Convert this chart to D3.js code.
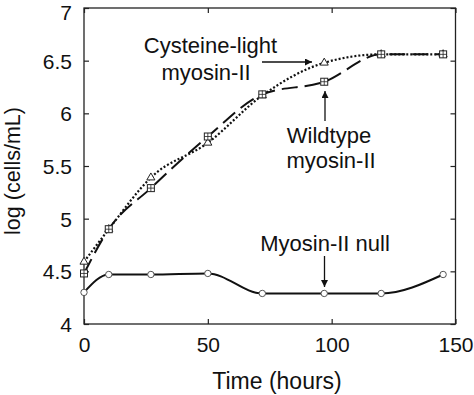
<!DOCTYPE html>
<html>
<head>
<meta charset="utf-8">
<script src="https://cdn.jsdelivr.net/npm/d3@7"></script>
<style>
  html, body { margin: 0; padding: 0; background: #fff; }
  svg text { font-family: "Liberation Sans", Arial, Helvetica, sans-serif; fill: #111; }
</style>
</head>
<body>
<svg id="chart" width="474" height="395"></svg>
<script>
// ---- data ----
const hours = [0, 10, 27, 50, 72, 97, 120, 145];
const cysteineLight = [4.59, 4.90, 5.39, 5.72, 6.17, 6.48, 6.56, 6.56];
const wildtype = [4.48, 4.90, 5.29, 5.78, 6.18, 6.30, 6.56, 6.56];
const myosinNull = [4.30, 4.47, 4.47, 4.48, 4.29, 4.29, 4.29, 4.47];
const xTicks = [0, 50, 100, 150];
const yTicks = [4, 4.5, 5, 5.5, 6, 6.5, 7];
const xTitle = "Time (hours)";
const yTitle = "log (cells/mL)";

const svg = d3.select("#chart");
const L = 84, R = 455.5, T = 8, B = 324;
const x = d3.scaleLinear().domain([0, 150]).range([L, R]);
const y = d3.scaleLinear().domain([4, 7]).range([B, T]);
const fsTick = 21, fsNote = 22;

// frame
svg.append("rect").attr("x", L).attr("y", T).attr("width", R - L).attr("height", B - T)
  .attr("fill", "none").attr("stroke", "#222").attr("stroke-width", 1.3);

// axes with inward ticks
const fmtY = d => Number.isInteger(d) ? String(d) : d3.format(".1f")(d);
const ax = (g) => { g.select(".domain").remove(); g.selectAll("line").attr("stroke", "#222").attr("stroke-width", 1.2); };

svg.append("g").attr("transform", `translate(${L},0)`)
  .call(d3.axisLeft(y).tickValues(yTicks).tickFormat(fmtY).tickSize(-5).tickPadding(12))
  .call(ax)
  .selectAll("text").style("font-size", fsTick + "px")
  .attr("dy", d => d === 7 ? "0.56em" : "0.36em");
svg.append("g").attr("transform", `translate(${R},0)`)
  .call(d3.axisRight(y).tickValues(yTicks).tickFormat("").tickSize(-5))
  .call(ax);
svg.append("g").attr("transform", `translate(0,${B})`)
  .call(d3.axisBottom(x).tickValues(xTicks).tickSize(-5).tickPadding(13))
  .call(ax)
  .selectAll("text").style("font-size", fsTick + "px");
svg.append("g").attr("transform", `translate(0,${T})`)
  .call(d3.axisTop(x).tickValues(xTicks).tickFormat("").tickSize(-5))
  .call(ax);

// titles
svg.append("text").attr("x", 277).attr("y", 389).attr("text-anchor", "middle")
  .style("font-size", "23px").text(xTitle);
svg.append("text").attr("transform", `translate(20,171) rotate(-90)`).attr("text-anchor", "middle")
  .style("font-size", "21.5px").text(yTitle);

// lines
const line = vals => d3.line().x((d, i) => x(hours[i])).y(d => y(d)).curve(d3.curveMonotoneX)(vals);
svg.append("path").attr("d", line(myosinNull)).attr("fill", "none")
  .attr("stroke", "#111").attr("stroke-width", 2);
svg.append("path").attr("d", line(wildtype)).attr("fill", "none")
  .attr("stroke", "#111").attr("stroke-width", 2).attr("stroke-dasharray", "16,7");
svg.append("path").attr("d", line(cysteineLight)).attr("fill", "none")
  .attr("stroke", "#111").attr("stroke-width", 2.2).attr("stroke-dasharray", "2,2");

// markers
svg.append("g").selectAll("circle").data(myosinNull).join("circle")
  .attr("cx", (d, i) => x(hours[i])).attr("cy", d => y(d)).attr("r", 3.2)
  .attr("fill", "#fff").attr("stroke", "#555").attr("stroke-width", 1);
const tri = d3.symbol().type(d3.symbolTriangle).size(28);
svg.append("g").selectAll("path").data(cysteineLight).join("path")
  .attr("transform", (d, i) => `translate(${x(hours[i])},${y(d)})`).attr("d", tri)
  .attr("fill", "#fff").attr("stroke", "#222").attr("stroke-width", 1);
const sq = svg.append("g").selectAll("g").data(wildtype).join("g")
  .attr("transform", (d, i) => `translate(${x(hours[i])},${y(d)})`);
sq.append("rect").attr("x", -3.5).attr("y", -3.5).attr("width", 7).attr("height", 7)
  .attr("fill", "#fff").attr("stroke", "#222").attr("stroke-width", 1);
sq.append("path").attr("d", "M-3.5,0H3.5M0,-3.5V3.5").attr("stroke", "#222").attr("stroke-width", 0.8);

// annotations
svg.append("defs").append("marker").attr("id", "ah").attr("viewBox", "0 0 10 10")
  .attr("refX", 10).attr("refY", 5).attr("markerWidth", 9).attr("markerHeight", 7)
  .attr("markerUnits", "userSpaceOnUse").attr("orient", "auto")
  .append("path").attr("d", "M0,0L10,5L0,10Z").attr("fill", "#111");

const label = (cx, by, txt) => svg.append("text").attr("x", cx).attr("y", by)
  .attr("text-anchor", "middle").style("font-size", fsNote + "px").text(txt);
label(210.5, 53, "Cysteine-light");
label(206, 80, "myosin-II");
label(329, 143, "Wildtype");
label(331, 168, "myosin-II");
label(325, 251, "Myosin-II null");

const arrow = (x1, y1, x2, y2) => svg.append("line").attr("x1", x1).attr("y1", y1)
  .attr("x2", x2).attr("y2", y2).attr("stroke", "#111").attr("stroke-width", 1.3)
  .attr("marker-end", "url(#ah)");
arrow(262, 62, 312, 62);
arrow(325, 121, 325, 91);
arrow(324.5, 256, 324.5, 287);
</script>
</body>
</html>
